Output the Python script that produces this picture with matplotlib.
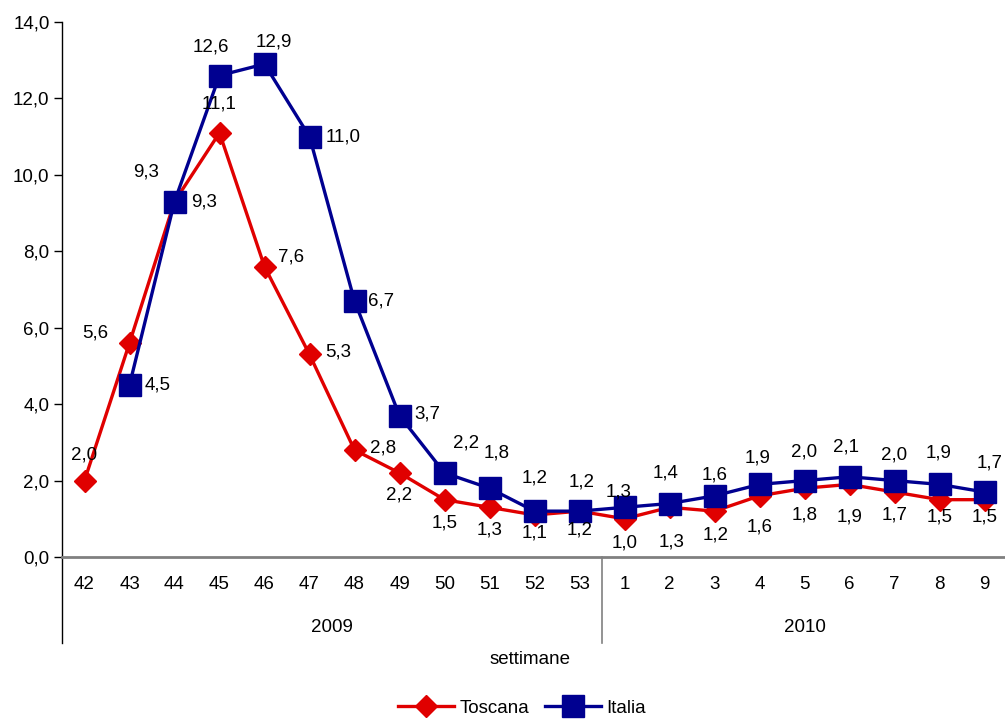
import matplotlib.pyplot as plt
import matplotlib.transforms as mtransforms
import numpy as np

plt.rcParams['font.family'] = ['Liberation Sans', 'DejaVu Sans']

# weeks (2009: 42-53, 2010: 1-9)
weeks = ['42', '43', '44', '45', '46', '47', '48', '49', '50', '51', '52', '53',
         '1', '2', '3', '4', '5', '6', '7', '8', '9']
years = ['2009', '2010']
year_sizes = [12, 9]

toscana = [2.0, 5.6, 9.3, 11.1, 7.6, 5.3, 2.8, 2.2, 1.5, 1.3, 1.1, 1.2,
           1.0, 1.3, 1.2, 1.6, 1.8, 1.9, 1.7, 1.5, 1.5]
# Italia starts at week 43
italia = [np.nan, 4.5, 9.3, 12.6, 12.9, 11.0, 6.7, 3.7, 2.2, 1.8, 1.2, 1.2,
          1.3, 1.4, 1.6, 1.9, 2.0, 2.1, 2.0, 1.9, 1.7]

# label offsets in pixels (dx, dy), dy positive = up
tos_off = [(0, 26), (-34, 10), (-28, 30), (0, 29), (27, 10), (29, 2), (29, 2),
           (0, -22), (0, -23), (0, -23), (0, -18), (0, -19), (0, -24), (2, -35),
           (1, -24), (0, -31), (0, -27), (0, -33), (0, -23), (0, -17), (0, -17)]
ita_off = [None, (28, 0), (30, 0), (-9, 28), (9, 22), (34, 0), (27, 0), (28, 2),
           (22, 30), (7, 35), (0, 33), (2, 29), (-6, 15), (-4, 30), (0, 21),
           (-2, 26), (0, 29), (-4, 30), (0, 26), (-1, 31), (5, 29)]

red = '#E00000'
blue = '#000090'
fs = 13.5

fig = plt.figure(figsize=(10.05, 7.2), dpi=100)
ax = fig.add_axes([62/1005, 163/720, 945/1005, 535/720])

x = np.arange(len(weeks))
ax.plot(x, toscana, color=red, lw=2.4, marker='D', ms=11, label='Toscana', zorder=3)
ax.plot(x, italia, color=blue, lw=2.4, marker='s', ms=16, label='Italia', zorder=4)

def fmt(v):
    return f'{v:.1f}'.replace('.', ',')

for i, v in enumerate(toscana):
    dx, dy = tos_off[i]
    ax.annotate(fmt(v), (i, v), xytext=(dx, dy), textcoords='offset pixels',
                ha='center', va='center', fontsize=fs, zorder=5)
for i, v in enumerate(italia):
    if ita_off[i] is None:
        continue
    dx, dy = ita_off[i]
    ax.annotate(fmt(v), (i, v), xytext=(dx, dy), textcoords='offset pixels',
                ha='center', va='center', fontsize=fs, zorder=5)

ax.set_xlim(-0.5, len(weeks) - 0.5)
ax.set_ylim(0, 14)
ax.set_yticks(np.arange(0, 15, 2))
ax.set_yticklabels([fmt(v) for v in np.arange(0, 15, 2)], fontsize=fs)
ax.set_xticks(x)
ax.set_xticklabels(weeks, fontsize=fs)
ax.tick_params(axis='x', length=0, pad=14)
ax.tick_params(axis='y', length=6, width=1, direction='out', pad=3)

for s in ['top', 'right']:
    ax.spines[s].set_visible(False)
ax.spines['left'].set_color('black')
ax.spines['left'].set_linewidth(1)
ax.spines['bottom'].set_color('#808080')
ax.spines['bottom'].set_linewidth(2)

# year grouping below the axis
trans = mtransforms.blended_transform_factory(ax.transData, ax.transAxes)
low = -86 / 535
ax.plot([-0.5, -0.5], [0, low], color='black', lw=1, transform=trans, clip_on=False)
start = -0.5
for yr, n in zip(years, year_sizes):
    end = start + n
    ax.text((start + end) / 2, -71 / 535, yr, transform=trans, ha='center',
            va='center', fontsize=fs)
    if end < len(weeks) - 0.5:
        ax.plot([end, end], [0, low], color='#808080', lw=1.2, transform=trans,
                clip_on=False)
    start = end

fig.text(530/1005, 1 - 660/720, 'settimane', ha='center', va='center', fontsize=fs)

fig.legend(loc='center', bbox_to_anchor=(522/1005, 1 - 708/720), ncol=2,
           frameon=False, fontsize=fs, handlelength=3.0, handletextpad=0.3,
           columnspacing=0.8)

fig.savefig('out.png', dpi=100)
